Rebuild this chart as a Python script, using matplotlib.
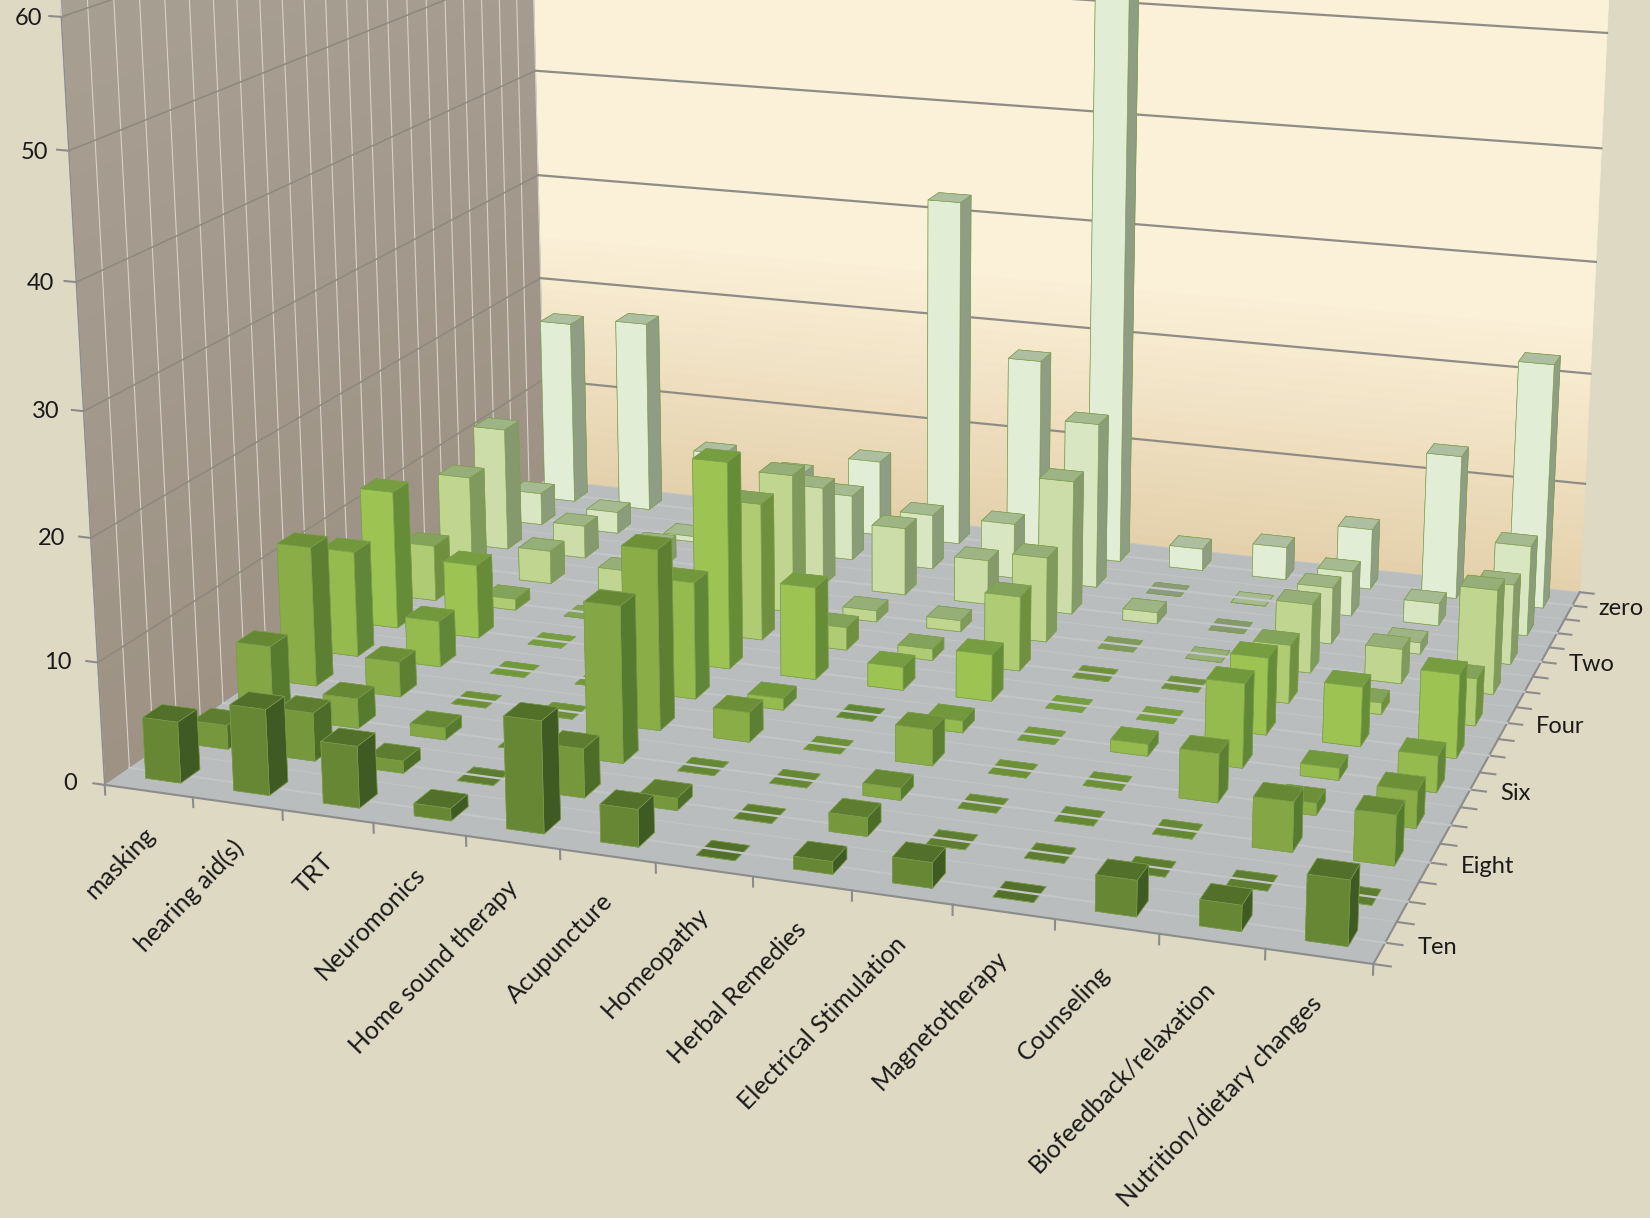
import numpy as np
import matplotlib
matplotlib.use("Agg")
import matplotlib.pyplot as plt
from mpl_toolkits.mplot3d import proj3d
from mpl_toolkits.mplot3d.art3d import Poly3DCollection

W, H = 1650, 1218
plt.rcParams["font.family"] = ["Lato", "DejaVu Sans"]

categories = ["masking", "hearing aid(s)", "TRT", "Neuromonics", "Home sound therapy",
              "Acupuncture", "Homeopathy", "Herbal Remedies", "Electrical Stimulation",
              "Magnetotherapy", "Counseling", "Biofeedback/relaxation",
              "Nutrition/dietary changes"]
depth_labels = ["Ten", "Eight", "Six", "Four", "Two", "zero"]
z_ticks = [0, 10, 20, 30, 40, 50, 60]

# one list per treatment, rating Ten (front) to zero (back)
masking = [5, 2, 6, 12, 9.2, 12.2, 5, 9, 11.3, 3, 17.3]
hearing_aids = [7, 4, 2.5, 3, 4, 6.5, 1, 3, 3, 2, 18]
trt = [5, 1, 1, 0, 0, 0, 0, 2, 2, 0.5, 6.2]
neuromonics = [1, 0, 0, 0, 0, 0, 0, 0, 0, 0, 5]
home_sound = [9, 4, 13, 15.2, 10, 18, 12.1, 12.4, 9, 6, 7]
acupuncture = [3, 1, 0, 2.5, 1, 8, 2, 1, 6.1, 5, 32]
homeopathy = [0, 0, 0, 0, 0, 2, 1, 1, 4, 5, 18]
herbal = [1, 1.5, 1, 3, 1, 4, 6.5, 7.5, 12, 15, 58]
electrical = [2, 0, 0, 0, 0, 0, 0, 0, 1, 0, 2]
magneto = [0, 0, 0, 0, 1, 0, 0, 0, 0, 0, 3]
counseling = [2.8, 0, 0, 4, 7, 6.5, 5, 6, 5, 4, 5.5]
biofeedback = [2, 0, 4, 1, 1, 5, 1, 3, 1, 2, 13]
nutrition = [5, 0, 4, 3, 3, 7, 4, 9, 7, 8, 22]
columns = [masking, hearing_aids, trt, neuromonics, home_sound, acupuncture, homeopathy,
           herbal, electrical, magneto, counseling, biofeedback, nutrition]

FRONT = ["#678735", "#77973D", "#84A645", "#8BAD48", "#95BA4E", "#9DC353",
         "#AFCB73", "#BFD590", "#CCDDAA", "#D8E6C2", "#E2EDD5"]
SIDE = ["#3F5A23", "#4C6C28", "#567A2E", "#5C7F32", "#628637", "#668C38",
        "#71903F", "#7F9A5C", "#86996C", "#8B9C7A", "#8E9D84"]
TOP = ["#52702A", "#5E7D30", "#668834", "#6C8F37", "#72983C", "#769D3F",
       "#84A35A", "#96AE78", "#9EB485", "#A6BA92", "#ADBFA0"]
EDGE = "#7F9F4F"
AXIS = "#8C8C8C"
TEXT = "#1A1A1A"
BAR_W, BAR_D = 0.4, 0.4
n_cat, n_row = len(categories), len(masking)

fig = plt.figure(figsize=(W / 100, H / 100), dpi=100, facecolor="#DDD9C3")
# camera found by fitting the corners of the floor and walls
size, cx, cy = 730.6, 881.6, 341.3
ax = fig.add_axes([(cx - size / 2) / W, (H - cy - size / 2) / H, size / W, size / H],
                  projection="3d", computed_zorder=False)
ax.view_init(15.3675, -70.6841)
ax.set_box_aspect((1, 0.8316, 0.6037), zoom=2.353)
ax.set_axis_off()


def lerp(c1, c2, t):
    return tuple(np.array(matplotlib.colors.to_rgb(c1)) * (1 - t)
                 + np.array(matplotlib.colors.to_rgb(c2)) * t)


def label(x, y, z, s, **kw):
    # ax.text ignores rotation in 3D, so go through the projection by hand
    x2, y2, _ = proj3d.proj_transform(x, y, z, ax.get_proj())
    ax.text2D(x2, y2, s, transform=ax.transData, color=TEXT, zorder=100, **kw)


# walls and floor
zs = np.linspace(0, 62, 63)
back, back_c, left, left_c = [], [], [], []
for z0, z1 in zip(zs[:-1], zs[1:]):
    back.append([(0, n_row, z0), (n_cat, n_row, z0), (n_cat, n_row, z1), (0, n_row, z1)])
    left.append([(0, 0, z0), (0, n_row, z0), (0, n_row, z1), (0, 0, z1)])
    back_c.append(lerp("#E4D1AC", "#FBF0D8", min(z0 / 24, 1)))
    left_c.append(lerp("#9D9284", "#A89F93", z0 / 62))
for verts, cols in [(back, back_c), (left, left_c)]:
    ax.add_collection3d(Poly3DCollection(verts, facecolors=cols, edgecolors=cols,
                                         linewidths=0.6, zorder=1))
ax.add_collection3d(Poly3DCollection([[(0, 0, 0), (n_cat, 0, 0), (n_cat, n_row, 0), (0, n_row, 0)]],
                                     facecolors="#B9BDBD", edgecolors="none", zorder=2))

# gridlines
for y in np.arange(0, n_row + 0.1, 0.5):
    ax.plot([0, 0], [y, y], [0, 62], color="#D6D2CA", lw=0.8, zorder=3)
    ax.plot([0, n_cat], [y, y], [0, 0], color="#C3C6C6", lw=0.7, zorder=3)
    ax.plot([n_cat, n_cat + 0.16], [y, y], [0, 0], color=AXIS, lw=1.5, zorder=3)
for z in z_ticks[1:]:
    ax.plot([0, 0], [0, n_row], [z, z], color="#8E887E", lw=1.1, zorder=3)
    ax.plot([0, n_cat], [n_row, n_row], [z, z], color="#8F8C86", lw=1.6, zorder=3)
    ax.plot([0, -0.13], [0, 0], [z, z], color=AXIS, lw=1.5, zorder=3)
ax.plot([0, -0.13], [0, 0], [0, 0], color=AXIS, lw=1.5, zorder=3)
for x in range(n_cat + 1):
    ax.plot([x, x], [0, 0], [0, -0.8], color=AXIS, lw=1.5, zorder=3)
ax.plot([0, n_cat], [0, 0], [0, 0], color=AXIS, lw=1.5, zorder=3)
ax.plot([n_cat, n_cat], [0, n_row], [0, 0], color=AXIS, lw=1.5, zorder=3)
ax.plot([0, 0], [0, 0], [0, 60], color=AXIS, lw=1.0, zorder=3)

# bars, painted from the back row forward
for r in range(n_row - 1, -1, -1):
    base = 10 + (n_row - 1 - r) * 3
    faces = [SIDE[r], TOP[r], FRONT[r], SIDE[r], SIDE[r], SIDE[r]]
    for c in range(n_cat):
        v = columns[c][r]
        order = base + 1 + c * 0.01 if v > 0 else base
        ax.bar3d(c + 0.5 - BAR_W / 2, r + 0.5 - BAR_D / 2, 0, BAR_W, BAR_D, v,
                 color=faces, shade=False, edgecolor=EDGE, linewidth=0.45, zorder=order)
    ax.plot([0, n_cat], [r + 0.5, r + 0.5], [0, 0], color="#C3C6C6", lw=1.6, zorder=base + 0.5)

ax.set_xlim(0, n_cat, view_margin=0)
ax.set_ylim(0, n_row, view_margin=0)
ax.set_zlim(0, 60, view_margin=0)

# labels
for c, name in enumerate(categories):
    label(c + 0.5, 0, -3.3, name, rotation=46, ha="right", va="center",
          rotation_mode="anchor", fontsize=18)
for i, name in enumerate(depth_labels):
    label(n_cat + 0.3, i * 2 + 0.5, 0, name, ha="left", va="center", fontsize=17)
for z in z_ticks:
    label(-0.32 + z * 0.0018, 0, z - 0.25, str(z), ha="right", va="center", fontsize=17)

for child in ax.get_children():
    child.set_clip_on(False)

fig.savefig("out.png", dpi=100, facecolor=fig.get_facecolor())
